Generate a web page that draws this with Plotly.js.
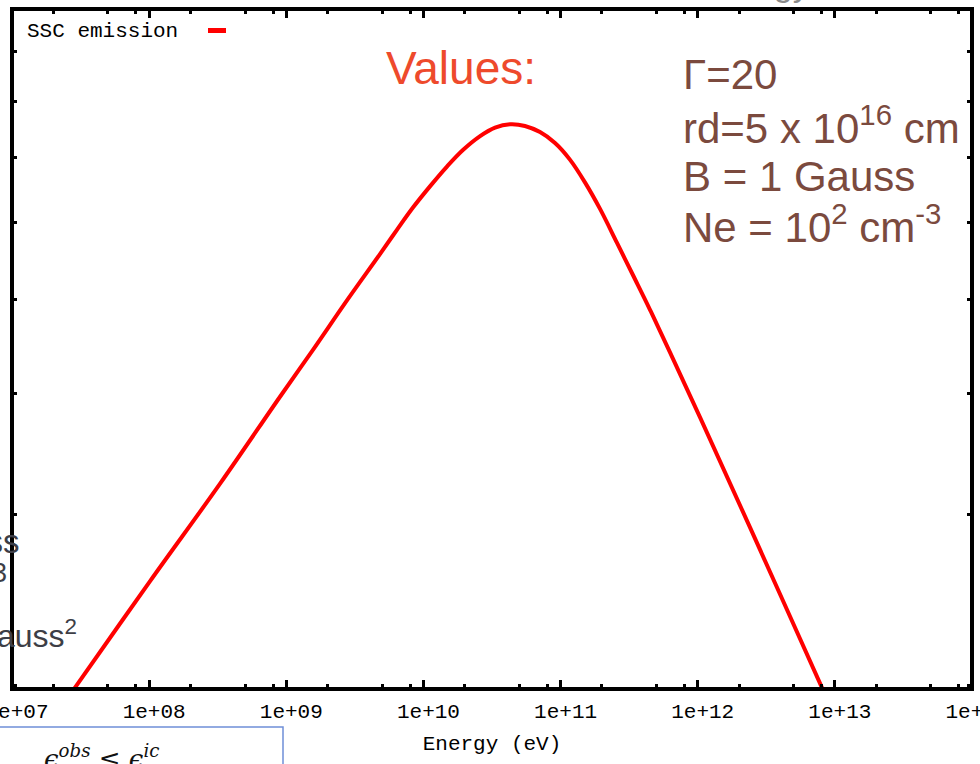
<!DOCTYPE html>
<html>
<head>
<meta charset="utf-8">
<script src="https://cdn.plot.ly/plotly-3.0.1.min.js"></script>
<style>html,body{margin:0;padding:0;background:#fff;}#chart{width:980px;height:764px;}</style>
</head>
<body>
<div id="chart"></div>
<script>
// ---- data ----
const energyEV = [2.06e7, 2.88e7, 1.01e8, 3.29e8, 9.0e8, 1.57e9, 2.77e9, 4.82e9, 6.41e9, 8.39e9,
  1.12e10, 1.49e10, 1.94e10, 2.59e10, 3.33e10, 4.28e10, 5.50e10, 7.08e10, 9.11e10,
  1.17e11, 1.51e11, 1.94e11, 2.58e11, 3.37e11, 4.49e11, 6.28e11, 1.04e12, 2.41e12, 8.05e12, 1.19e13];
const sscFlux = [1.86, 1.99, 2.56, 3.23, 3.97, 4.44, 4.99, 5.57, 5.90, 6.22,
  6.545, 6.86, 7.13, 7.37, 7.52, 7.58, 7.55, 7.44, 7.25,
  6.97, 6.60, 6.20, 5.72, 5.30, 4.88, 4.41, 3.78, 2.91, 1.99, 1.76];
const seriesName = "SSC emission";
const xTickVals = [1e7, 1e8, 1e9, 1e10, 1e11, 1e12, 1e13, 1e14];
const xTickText = ["1e+07", "1e+08", "1e+09", "1e+10", "1e+11", "1e+12", "1e+13", "1e+14"];
const xMinorMantissa = [2, 5, 8];
const yTickVals = [2, 3, 4, 5, 6, 7, 8, 9];
const xTitle = "Energy (eV)";
const valuesLabel = "Values:";
const paramLines = ["Γ=20", "rd=5 x 10<sup>16</sup> cm", "B = 1 Gauss", "Ne = 10<sup>2</sup> cm<sup>-3</sup>"];

// ---- layout helpers ----
const W = 980, H = 764;
const M = {l: 12, r: 8, t: 9, b: 75};
const PW = W - M.l - M.r, PH = H - M.t - M.b;
const px = x => (x - M.l) / PW;
const py = y => (M.t + PH - y) / PH;

const xMinor = [];
for (let e = 7; e < 14; e++) xMinorMantissa.forEach(m => xMinor.push(m * Math.pow(10, e)));

const mono = "Liberation Mono, Courier New, monospace";
const sans = "Liberation Sans, Arial, sans-serif";
const brown = "#7b4a3e";
const grey = "#3d3e46";

const trace = {
  x: energyEV, y: sscFlux, type: "scatter", mode: "lines", name: seriesName,
  line: {color: "#ff0000", width: 4, shape: "spline", smoothing: 1},
  hoverinfo: "x+y"
};

function ann(text, x, y, xanchor, size, color, family) {
  return {text: text, xref: "paper", yref: "paper", x: px(x), y: py(y),
    xanchor: xanchor, yanchor: "middle", showarrow: false,
    font: {family: family || sans, size: size, color: color}};
}

const annotations = [
  ann(seriesName, 25, 32, "left", 21, "#000", mono),
  ann(valuesLabel, 384, 68, "left", 46, "#ee4a2c"),
  ann(paramLines[0], 681, 74, "left", 42, brown),
  ann(paramLines[1], 681, 125, "left", 42, brown),
  ann(paramLines[2], 681, 176, "left", 42, brown),
  ann(paramLines[3], 681, 224, "left", 42, brown),
  // slide text showing through at the edges
  ann("B = 1 Gauss", 22, 541, "right", 33, grey),
  ann("3", 9, 573, "right", 27, grey),
  ann("Gauss<sup>2</sup>", 79, 634, "right", 32, grey),
  ann("Energy", 812, -16, "right", 34, "#8a8a8a"),
  ann("<i>ϵ<sup>obs</sup></i> ≤ <i>ϵ<sup>ic</sup></i>", 42, 757, "left", 26, "#111", "DejaVu Serif, serif")
];

const shapes = [
  {type: "rect", xref: "paper", yref: "paper", x0: 0, x1: 1, y0: 0, y1: 1,
   line: {color: "#000", width: 4}, fillcolor: "rgba(0,0,0,0)", layer: "above"},
  {type: "line", xref: "paper", yref: "paper", x0: px(208), x1: px(226), y0: py(30.5), y1: py(30.5),
   line: {color: "#ff0000", width: 5}},
  {type: "rect", xref: "paper", yref: "paper", x0: px(-6), x1: px(283), y0: py(727), y1: py(800),
   line: {color: "#6f8fd8", width: 1.5}, fillcolor: "rgba(0,0,0,0)"}
];

const layout = {
  width: W, height: H, margin: M,
  paper_bgcolor: "#fff", plot_bgcolor: "#fff",
  showlegend: false,
  xaxis: {
    type: "log", range: [7, 14], autorange: false,
    tickmode: "array", tickvals: xTickVals, ticktext: xTickText,
    ticks: "inside", ticklen: 9, tickwidth: 3, tickcolor: "#000",
    mirror: "ticks", showline: false, showgrid: false, zeroline: false,
    tickfont: {family: mono, size: 21, color: "#000"},
    ticklabelstandoff: 7, ticklabelshift: 5, ticklabeloverflow: "allow",
    minor: {tickmode: "array", tickvals: xMinor, ticks: "inside", ticklen: 5, tickwidth: 3, tickcolor: "#000", showgrid: false},
    title: {text: xTitle, font: {family: mono, size: 21, color: "#000"}, standoff: 12},
    automargin: false
  },
  yaxis: {
    type: "log", range: [0.2975, 0.9985], autorange: false,
    tickmode: "array", tickvals: yTickVals, showticklabels: false,
    ticks: "inside", ticklen: 5, tickwidth: 3, tickcolor: "#000",
    mirror: "ticks", showline: false, showgrid: false, zeroline: false,
    automargin: false
  },
  annotations: annotations,
  shapes: shapes
};

Plotly.newPlot("chart", [trace], layout, {displayModeBar: false, staticPlot: true});
</script>
</body>
</html>
